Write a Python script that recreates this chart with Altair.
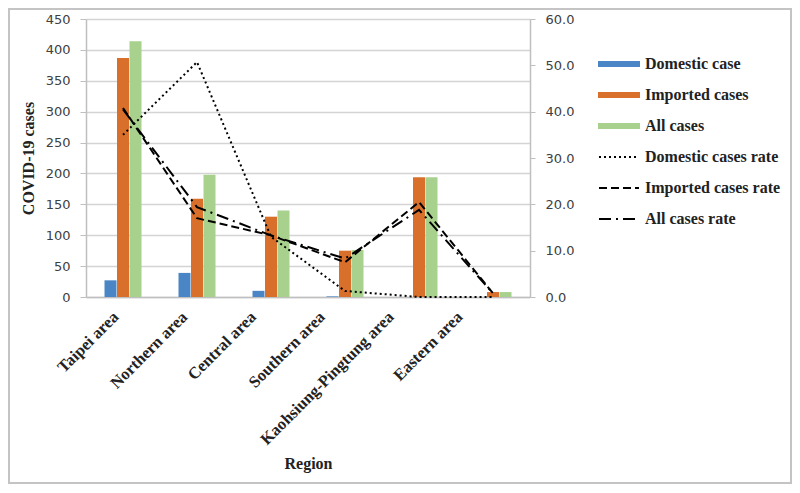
import altair as alt
import pandas as pd

regions = ["Taipei area", "Northern area", "Central area", "Southern area",
           "Kaohsiung-Pingtung area", "Eastern area"]
domestic = [27, 39, 10, 1, 0, 0]
imported = [387, 159, 130, 75, 194, 8]
all_cases = [414, 198, 140, 76, 194, 8]
dom_rate = [35.0, 50.7, 13.0, 1.3, 0.0, 0.0]
imp_rate = [40.8, 17.0, 13.3, 7.5, 20.5, 0.8]
all_rate = [40.5, 19.4, 13.3, 8.3, 18.8, 0.8]

bar_series = ["Domestic case", "Imported cases", "All cases"]
rate_series = ["Domestic cases rate", "Imported cases rate", "All cases rate"]
bar_colors = ["#4A86C5", "#D8702C", "#A8D18D"]
dashes = [[2, 3], [8, 4], [12, 5, 2, 5]]

bars_df = pd.DataFrame({
    "Region": regions * 3,
    "Series": [s for s in bar_series for _ in regions],
    "Cases": domestic + imported + all_cases,
})
rates_df = pd.DataFrame({
    "Region": regions * 3,
    "Series": [s for s in rate_series for _ in regions],
    "Rate": dom_rate + imp_rate + all_rate,
})

serif = "Liberation Serif"
sans = "DejaVu Sans"

region_list = "[" + ",".join("'" + r + "'" for r in regions) + "]"

x_enc = alt.X(
    "Region:N", sort=regions,
    scale=alt.Scale(paddingInner=0.5, paddingOuter=0.25),
    axis=alt.Axis(title="Region", labelAngle=-45, labelAlign="right", labelBaseline="middle",
                  labelFont=serif, labelFontWeight="bold", labelFontSize=16.5, labelColor="#222",
                  labelPadding=17, ticks=False,
                  labelOffset=alt.ExprRef("-7 - 5.2 * indexof(" + region_list + ", datum.value)"),
                  titleFont=serif, titleFontWeight="bold",
                  titleFontSize=16, titleColor="#222", titleY=166, titleBaseline="middle",
                  domainColor="#BFBFBF", domainWidth=1.5, labelLimit=300),
)

bars = alt.Chart(bars_df).mark_bar().encode(
    x=x_enc,
    xOffset=alt.XOffset("Series:N", sort=bar_series, scale=alt.Scale(domain=bar_series, paddingInner=0.04)),
    y=alt.Y("Cases:Q", scale=alt.Scale(domain=[0, 450]),
            axis=alt.Axis(values=list(range(0, 451, 50)), title="COVID-19 cases",
                          labelFont=sans, labelFontSize=13, labelColor="#404040", labelPadding=10,
                          tickSize=6, tickColor="#BFBFBF", domainColor="#BFBFBF", domainWidth=1.5,
                          gridColor="#D4D4D4", gridWidth=1.5,
                          titleFont=serif, titleFontWeight="bold", titleFontSize=16,
                          titleColor="#222", titlePadding=9)),
    color=alt.Color("Series:N", sort=bar_series,
                    scale=alt.Scale(domain=bar_series, range=bar_colors),
                    legend=alt.Legend(title=None, orient="none", legendX=512, legendY=24,
                                      symbolType="M-1,-0.143L1,-0.143L1,0.143L-1,0.143Z",
                                      symbolSize=1764, symbolStrokeWidth=0,
                                      labelFont=serif, labelFontWeight="bold", labelFontSize=16,
                                      labelColor="#222", labelOffset=5, rowPadding=2)),
)

lines = alt.Chart(rates_df).mark_line(color="black", strokeWidth=2).encode(
    x=alt.X("Region:N", sort=regions),
    y=alt.Y("Rate:Q", scale=alt.Scale(domain=[0, 60]),
            axis=alt.Axis(orient="right", format=".1f", values=[0, 10, 20, 30, 40, 50, 60],
                          grid=False, title=None, labelFont=sans, labelFontSize=13,
                          labelColor="#404040", labelPadding=10, tickSize=5, tickColor="#BFBFBF",
                          domainColor="#BFBFBF", domainWidth=1.5)),
    strokeDash=alt.StrokeDash("Series:N", sort=rate_series,
                              scale=alt.Scale(domain=rate_series, range=dashes),
                              legend=alt.Legend(title=None, orient="none", legendX=512, legendY=117,
                                                symbolType="stroke", symbolSize=1600,
                                                symbolStrokeColor="black", symbolStrokeWidth=2,
                                                labelFont=serif, labelFontWeight="bold",
                                                labelFontSize=16, labelColor="#222",
                                                labelOffset=5, rowPadding=2)),
)

frame = alt.Chart(pd.DataFrame({"k": [0]})).mark_rect(
    fill=None, stroke="#C4C4C4", strokeWidth=2
).encode(x=alt.value(-77), x2=alt.value(444 + 261), y=alt.value(-10), y2=alt.value(278 + 186))

chart = alt.layer(bars, lines, frame).resolve_scale(
    y="independent", color="independent", strokeDash="independent"
).properties(
    width=444, height=278,
    autosize=alt.AutoSizeParams(type="none"),
    padding={"left": 78, "top": 11, "right": 262, "bottom": 188},
).configure_view(stroke=None)

chart.save("out.html", embed_options={"renderer": "svg", "actions": False})
